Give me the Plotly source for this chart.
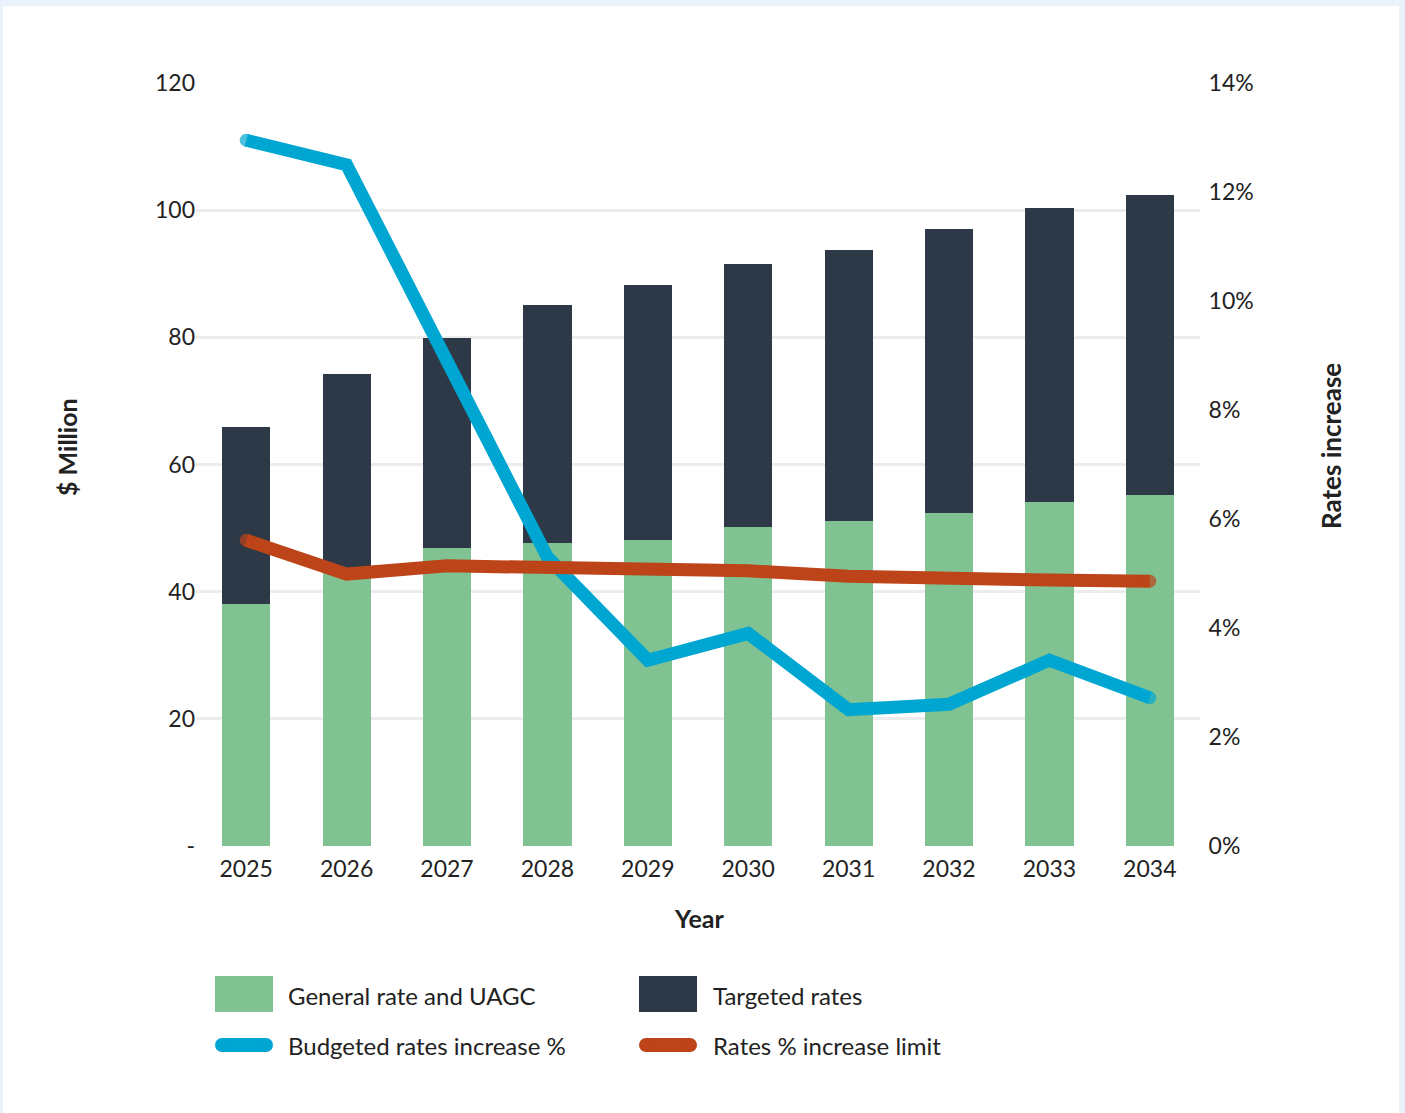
import plotly.graph_objects as go

years = ["2025", "2026", "2027", "2028", "2029", "2030", "2031", "2032", "2033", "2034"]
general_rate = [38.0, 43.0, 46.9, 47.6, 48.1, 50.2, 51.1, 52.4, 54.1, 55.2]
targeted_rates = [27.9, 31.2, 33.0, 37.5, 40.1, 41.3, 42.6, 44.6, 46.2, 47.2]
budgeted_increase = [12.95, 12.5, 8.9, 5.3, 3.41, 3.9, 2.5, 2.6, 3.41, 2.72]
increase_limit = [5.61, 4.99, 5.14, 5.12, 5.06, 5.05, 4.95, 4.94, 4.88, 4.86]

left_ticks = [0, 20, 40, 60, 80, 100, 120]
left_ticktext = ["-", "20", "40", "60", "80", "100", "120"]
right_ticks = [0, 2, 4, 6, 8, 10, 12, 14]
right_ticktext = ["0%", "2%", "4%", "6%", "8%", "10%", "12%", "14%"]

GREEN = "#80c292"
DARK = "#2d3947"
BLUE = "#00a6d2"
RED = "#bd4318"
TXT = "#222222"
FONT = "Lato"

W, H = 1405, 1113
L, R, T, B = 196, 205, 83, 267
PW = W - L - R
PH = H - T - B


def px(x):
    return (x - L) / PW


def py(y):
    return (H - B - y) / PH


fig = go.Figure()
fig.add_trace(go.Bar(x=years, y=general_rate, name="General rate and UAGC",
                     marker=dict(color=GREEN, line=dict(width=0)), width=0.48))
fig.add_trace(go.Bar(x=years, y=targeted_rates, name="Targeted rates",
                     marker=dict(color=DARK, line=dict(width=0)), width=0.48))

n = len(years)
end_sizes = [13] + [0] * (n - 2) + [13]
fig.add_trace(go.Scatter(x=years, y=budgeted_increase, name="Budgeted rates increase %",
                         mode="lines+markers", yaxis="y2",
                         line=dict(color=BLUE, width=13),
                         marker=dict(size=end_sizes, color=BLUE, line=dict(width=0))))
fig.add_trace(go.Scatter(x=years, y=increase_limit, name="Rates % increase limit",
                         mode="lines+markers", yaxis="y2",
                         line=dict(color=RED, width=13),
                         marker=dict(size=end_sizes, color=RED, line=dict(width=0))))

shapes = [
    dict(type="rect", xref="paper", yref="paper", x0=px(3), x1=px(1399), y0=py(6), y1=py(H + 5),
         fillcolor="white", line=dict(width=0), layer="below"),
    # legend swatches
    dict(type="rect", xref="paper", yref="paper", x0=px(215), x1=px(273), y0=py(1012), y1=py(976),
         fillcolor=GREEN, line=dict(width=0)),
    dict(type="rect", xref="paper", yref="paper", x0=px(639), x1=px(697), y0=py(1012), y1=py(976),
         fillcolor=DARK, line=dict(width=0)),
]
for (xa, xb, col) in [(215, 273, BLUE), (639, 697, RED)]:
    yc = 1045
    r = 7
    shapes.append(dict(type="rect", xref="paper", yref="paper", x0=px(xa + r), x1=px(xb - r),
                       y0=py(yc + r), y1=py(yc - r), fillcolor=col, line=dict(width=0)))
    for cx in (xa + r, xb - r):
        shapes.append(dict(type="circle", xref="paper", yref="paper", x0=px(cx - r), x1=px(cx + r),
                           y0=py(yc + r), y1=py(yc - r), fillcolor=col, line=dict(width=0)))

annotations = [
    dict(text="<b>Year</b>", xref="paper", yref="paper", x=px(699), y=py(918), showarrow=False,
         xanchor="center", yanchor="middle", font=dict(size=25, color=TXT, family=FONT)),
    dict(text="<b>$ Million</b>", xref="paper", yref="paper", x=px(67), y=py(447), showarrow=False,
         textangle=-90, xanchor="center", yanchor="middle", font=dict(size=25, color=TXT, family=FONT)),
    dict(text="<b>Rates increase</b>", xref="paper", yref="paper", x=px(1331), y=py(446), showarrow=False,
         textangle=-90, xanchor="center", yanchor="middle", font=dict(size=26, color=TXT, family=FONT)),
]
legend_items = [
    ("General rate and UAGC", 286, 995),
    ("Targeted rates", 711, 995),
    ("Budgeted rates increase %", 286, 1045),
    ("Rates % increase limit", 711, 1045),
]
for txt, x, y in legend_items:
    annotations.append(dict(text=txt, xref="paper", yref="paper", x=px(x), y=py(y), showarrow=False,
                            xanchor="left", yanchor="middle",
                            font=dict(size=24, color=TXT, family=FONT)))

fig.update_layout(
    width=W, height=H, autosize=False,
    margin=dict(l=L, r=R, t=T, b=B, pad=0),
    paper_bgcolor="#eaf2fb",
    plot_bgcolor="rgba(0,0,0,0)",
    barmode="stack",
    showlegend=False,
    hovermode=False,
    font=dict(family=FONT, color=TXT, size=22),
    xaxis=dict(type="category", range=[-0.5, 9.5], showgrid=False, zeroline=False, showline=False,
               tickfont=dict(size=23, color=TXT), ticks="outside", ticklen=2, tickcolor="rgba(0,0,0,0)"),
    yaxis=dict(range=[0, 120], tickvals=left_ticks, ticktext=left_ticktext,
               showgrid=True, gridcolor="#ececec", gridwidth=3, zeroline=False, showline=False,
               tickfont=dict(size=23, color=TXT), ticks="", ticklen=0),
    yaxis2=dict(range=[0, 14], tickvals=right_ticks, ticktext=right_ticktext, overlaying="y", side="right",
                showgrid=False, zeroline=False, showline=False,
                tickfont=dict(size=23, color=TXT), ticks="outside", ticklen=3, tickcolor="rgba(0,0,0,0)"),
    shapes=shapes,
    annotations=annotations,
)

fig.write_html("out.html", config={"displayModeBar": False},
               post_script="document.body.style.margin='0';document.body.style.overflow='hidden';")
